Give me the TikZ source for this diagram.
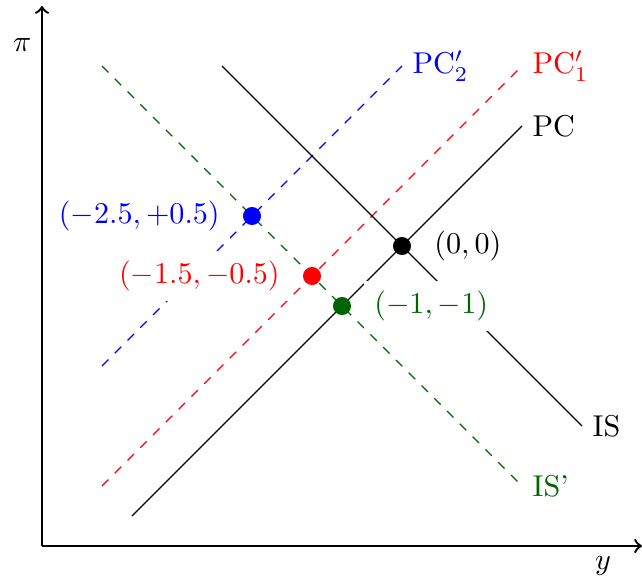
\documentclass[tikz,border=0pt]{standalone}
\usepackage{amsmath}
\usepackage{tikz}
\usetikzlibrary{positioning}
\definecolor{darkgreen}{RGB}{0,100,0}

\begin{document}
\begin{tikzpicture}[scale=0.7,
    axis/.style={->, thick},
    shifted/.style={dashed},
    dot/.style={circle, inner sep=0pt, minimum size=6pt},
    ptlab/.style={fill=white, inner sep=3.33pt}
]
\useasboundingbox (-6.7,-5.55) rectangle (4,4.1);
% axes
\coordinate (o) at (-6,-5);
\coordinate (xend) at (4,-5);
\coordinate (yend) at (-6,4);
\draw[axis] (o) -- (xend);
\draw[axis] (o) -- (yend);
\node[left] (pilab) at (-6,3.35) {$\pi$};
\node[below] (ylab) at (3.35,-5) {$y$};

% curves
\coordinate (pc1) at (-4.5,-4.5);  \coordinate (pc2) at (2,2);
\coordinate (pca1) at (-5,-4);     \coordinate (pca2) at (2,3);
\coordinate (pcb1) at (-5,-2);     \coordinate (pcb2) at (0,3);
\coordinate (is1) at (-3,3);       \coordinate (is2) at (3,-3);
\coordinate (isa1) at (-5,3);      \coordinate (isa2) at (2,-4);
\draw (pc1) -- (pc2) node[right] (pclab) {PC};
\draw[shifted, red] (pca1) -- (pca2) node[right] (pcalab) {PC$'_1$};
\draw[shifted, blue] (pcb1) -- (pcb2) node[right] (pcblab) {PC$'_2$};
\draw (is1) -- (is2) node[right] (islab) {IS};
\draw[shifted, darkgreen] (isa1) -- (isa2) node[right] (isalab) {IS'};

% equilibria
\node[dot, fill=black]     (e0) at (0,0) {};
\node[dot, fill=darkgreen] (e1) at (-1,-1) {};
\node[dot, fill=red]       (e2) at (-1.5,-0.5) {};
\node[dot, fill=blue]      (e3) at (-2.5,0.5) {};
\node[right=4pt of e0] (e0lab) {$(0,0)$};
\node[ptlab, right=4pt of e1, text=darkgreen] (e1lab) {$(-1,-1)$};
\node[ptlab, left=4pt of e2, text=red] (e2lab) {$(-1.5,-0.5)$};
\node[ptlab, left=4pt of e3, text=blue] (e3lab) {$(-2.5,+0.5)$};
\end{tikzpicture}
\end{document}
